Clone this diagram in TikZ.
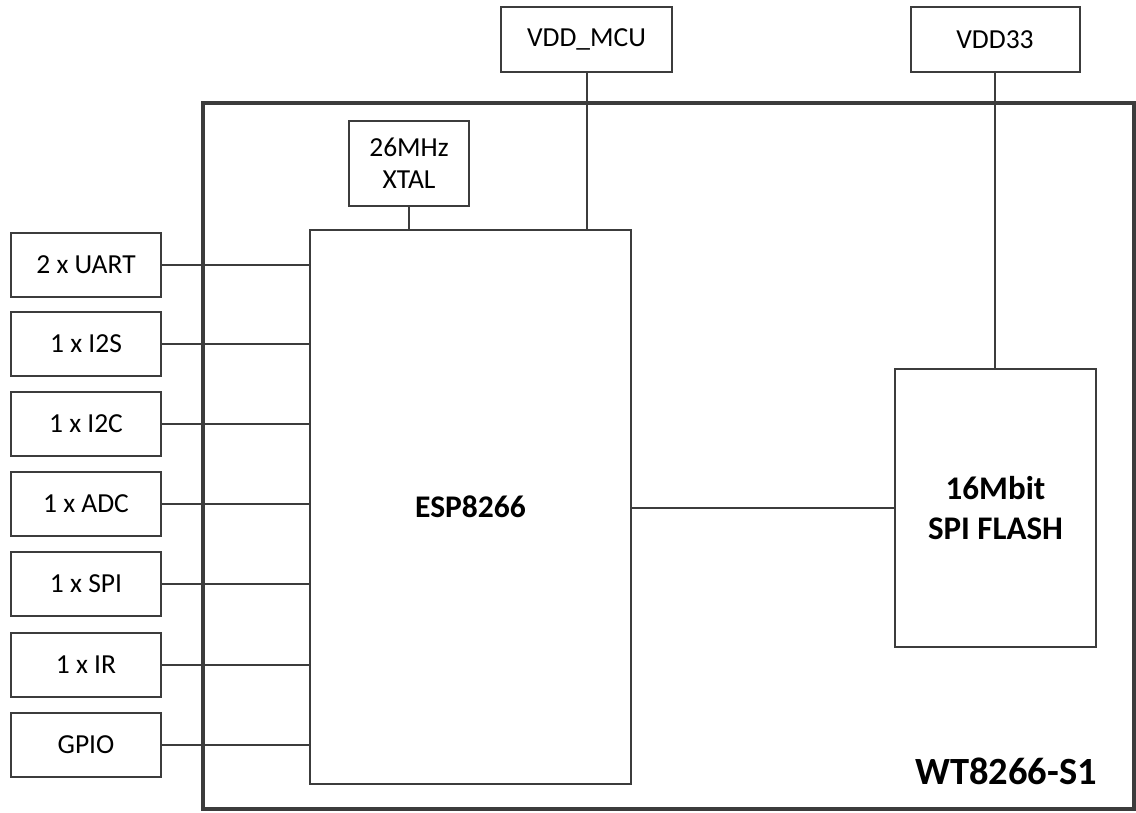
\documentclass[tikz,border=0pt]{standalone}
\usepackage{fontspec}
\setmainfont{Carlito}
\definecolor{ln}{HTML}{3C3C3C}
\tikzset{
  box/.style={draw=ln, line width=2pt, fill=white, inner sep=0pt, align=center, font=\fontsize{27.5}{32}\selectfont},
  wire/.style={draw=ln, line width=2pt},
}
\begin{document}
\begin{tikzpicture}[x=1pt,y=-1pt]
\useasboundingbox (0,0) rectangle (1136,812);
\node[draw=ln, line width=3.5pt, minimum width=931pt, minimum height=706pt, inner sep=0pt] (outer) at (668.5,456) {};
\node[box, minimum width=321pt, minimum height=554pt, font=\fontsize{31.5}{36}\selectfont\bfseries] (esp) at (470.5,507) {ESP8266};
\node[box, minimum width=201pt, minimum height=278pt, font=\fontsize{33}{40}\selectfont\bfseries] (flash) at (995.5,508) {16Mbit\\SPI FLASH};
\node[box, minimum width=120pt, minimum height=85pt] (xtal) at (409,163.5) {26MHz\\XTAL};
\node[box, minimum width=171pt, minimum height=65pt] (vddmcu) at (586.5,39.5) {VDD\_MCU};
\node[box, minimum width=169pt, minimum height=65pt] (vdd33) at (995,39.5) {VDD33};
\foreach \n/\t/\y in {uart/2 x UART/265, iis/1 x I2S/344, iic/1 x I2C/424, adc/1 x ADC/504, spi/1 x SPI/584, ir/1 x IR/665, gpio/GPIO/745}{
  \node[box, minimum width=150pt, minimum height=64pt] (\n) at (86,\y) {\t};
  \draw[wire] (\n.east) -- (esp.west |- \n.east);
}
\draw[wire] (xtal.south) -- (esp.north -| xtal.south);
\draw[wire] (vddmcu.south) -- (esp.north -| vddmcu.south);
\draw[wire] (vdd33.south) -- (flash.north -| vdd33.south);
\draw[wire] (esp.east |- flash.west) -- (flash.west);
\node[font=\fontsize{38.5}{44}\selectfont\bfseries] (label) at (1006,771) {WT8266-S1};
\end{tikzpicture}
\end{document}
